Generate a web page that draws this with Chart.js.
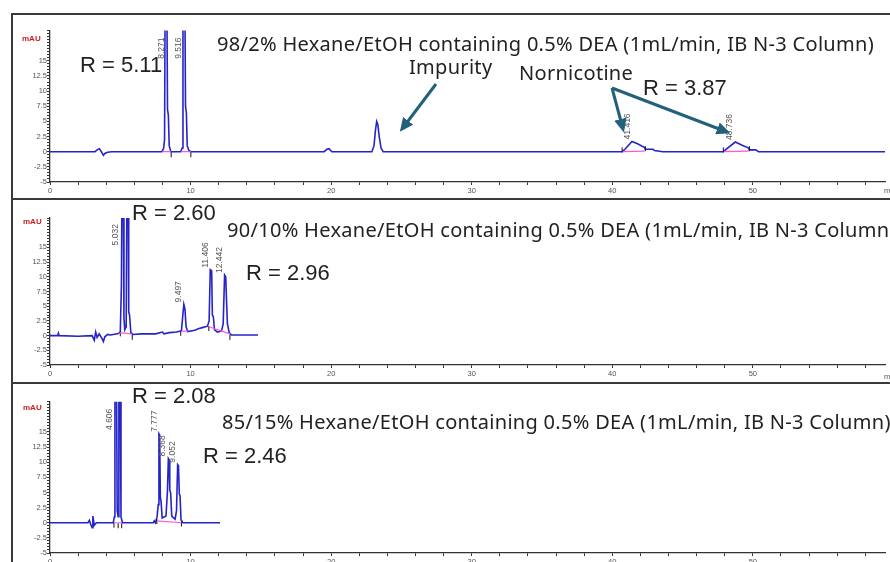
<!DOCTYPE html>
<html>
<head>
<meta charset="utf-8">
<script src="https://cdn.jsdelivr.net/npm/chart.js@4.4.1/dist/chart.umd.min.js"></script>
<style>
  html, body { margin:0; padding:0; background:#fff; }
  body { position:relative; width:890px; height:562px; overflow:hidden; }
  canvas { position:absolute; left:12px; }
  .line { position:absolute; background:#3a3a3a; }
  .txt { position:absolute; white-space:nowrap; line-height:1; color:#222; }
  .title { font-family:'Noto Sans'; font-size:20px; letter-spacing:0.3px; }
  .rval { font-family:'Liberation Sans'; font-size:22px; }
  .mau { font-family:'Liberation Sans'; font-size:8px; font-weight:bold; color:#c82020; }
  .unit { font-family:'Liberation Sans'; font-size:7.5px; color:#555; }
</style>
</head>
<body>
<!-- panel frames -->
<div class="line" style="left:11px;top:13px;width:879px;height:1.5px"></div>
<div class="line" style="left:11px;top:13px;width:1.5px;height:549px"></div>
<div class="line" style="left:11px;top:198px;width:879px;height:1.5px"></div>
<div class="line" style="left:11px;top:382px;width:879px;height:1.5px"></div>

<canvas id="c1" width="878" height="183" style="top:15px"></canvas>
<canvas id="c2" width="878" height="181" style="top:200px"></canvas>
<canvas id="c3" width="878" height="185" style="top:384px"></canvas>

<div class="txt mau" style="left:22px;top:35px">mAU</div>
<div class="txt mau" style="left:23px;top:218px">mAU</div>
<div class="txt mau" style="left:23px;top:404px">mAU</div>
<div class="txt unit" style="left:884px;top:187px">min</div>
<div class="txt unit" style="left:884px;top:373px">min</div>

<div class="txt title" style="left:217px;top:33.5px">98/2% Hexane/EtOH containing 0.5% DEA (1mL/min, IB N-3 Column)</div>
<div class="txt title" style="left:227px;top:219.5px">90/10% Hexane/EtOH containing 0.5% DEA (1mL/min, IB N-3 Column)</div>
<div class="txt title" style="left:222px;top:411.5px">85/15% Hexane/EtOH containing 0.5% DEA (1mL/min, IB N-3 Column)</div>
<div class="txt title" style="left:409px;top:56.5px">Impurity</div>
<div class="txt title" style="left:519px;top:63.2px">Nornicotine</div>

<div class="txt rval" style="left:80px;top:54px">R = 5.11</div>
<div class="txt rval" style="left:643px;top:77px">R = 3.87</div>
<div class="txt rval" style="left:132px;top:202px">R = 2.60</div>
<div class="txt rval" style="left:246px;top:262px">R = 2.96</div>
<div class="txt rval" style="left:132px;top:385px">R = 2.08</div>
<div class="txt rval" style="left:203px;top:445px">R = 2.46</div>

<svg width="890" height="562" style="position:absolute;left:0;top:0">
  <defs>
    <marker id="ah" markerWidth="4.6" markerHeight="4.2" refX="3.4" refY="2.1" orient="auto" markerUnits="strokeWidth">
      <path d="M0,0 L4.6,2.1 L0,4.2 z" fill="#22617a"/>
    </marker>
  </defs>
  <line x1="436" y1="84" x2="402" y2="129" stroke="#22617a" stroke-width="3" marker-end="url(#ah)"/>
  <line x1="612" y1="88" x2="623" y2="129" stroke="#22617a" stroke-width="3" marker-end="url(#ah)"/>
  <line x1="612" y1="88" x2="727" y2="132" stroke="#22617a" stroke-width="3" marker-end="url(#ah)"/>
</svg>

<script>
// ---- panel 1 : 98/2% Hexane/EtOH ----
var time1 = [0, 3.2, 3.35, 3.5, 3.6, 3.7, 3.8, 3.9, 4.1, 4.4,
  7.95, 8.08, 8.15, 8.2, 8.3, 8.36, 8.42, 8.48, 8.6,
  9.3, 9.4, 9.46, 9.58, 9.64, 9.7, 9.76, 9.88, 10.0,
  19.5, 19.7, 19.85, 20.05,
  22.9, 23.05, 23.15, 23.24, 23.32, 23.42, 23.55, 23.7,
  40.7, 40.9, 41.4, 41.8, 42.3, 42.35, 42.9, 43.0, 43.6,
  47.9, 48.2, 48.75, 49.2, 49.7, 49.75, 50.2, 50.4, 59.4];
var signal1 = [0, 0, 0.3, 0.5, 0.2, -0.2, -0.6, -0.3, -0.1, 0,
  0, 0.5, 2, 30, 30, 7, 6, 1, 0,
  0, 0.6, 30, 30, 7.5, 6.5, 1, 0.2, 0,
  0, 0.4, 0.5, 0,
  0, 1, 3.5, 5, 4.5, 2.5, 0.6, 0,
  0, 0.4, 1.7, 1.3, 0.7, 0.4, 0.4, 0.2, 0,
  0, 0.6, 1.6, 1.1, 0.6, 0.3, 0.3, 0, 0];
var peakNames1 = ['8.271', '9.516', '41.416', '48.736'];
var peakTops1 = [30, 30, 1.7, 1.6];
var baseTime1 = [8.0, 8.6, 8.6, 9.35, 10.0, 10.0, 40.75, 42.3, 42.3, 47.95, 49.7];
var baseVal1 = [0, 0, null, 0, 0, null, 0, 0.1, null, 0, 0.1];
var markTime1 = [8.62, 10.02, 40.7, 42.35, 47.9, 49.75];
var markVal1 = [-0.5, -0.5, 0.3, 0.5, 0.3, 0.5];

// ---- panel 2 : 90/10% Hexane/EtOH ----
var time2 = [0, 0.55, 0.6, 0.65, 2.0, 3.0, 3.15, 3.25, 3.35, 3.5, 3.7, 3.8, 3.9, 4.1, 4.3, 4.8,
  5.0, 5.08, 5.13, 5.2, 5.26, 5.32, 5.42, 5.48, 5.55, 5.6, 5.66, 5.75, 5.9,
  6.5, 7.5, 8.0, 8.1, 8.5, 9.0,
  9.35, 9.45, 9.52, 9.6, 9.68, 9.8, 10.3, 10.6, 10.9,
  11.2, 11.32, 11.4, 11.5, 11.55, 11.62, 11.7, 11.9,
  12.2, 12.32, 12.42, 12.5, 12.55, 12.62, 12.75, 12.9, 13.5, 14.8];
var signal2 = [0, 0, 0.4, 0, -0.1, 0, -0.8, 0.6, -0.3, 0.3, -0.5, -1.0, -0.2, 0.2, 0.1, 0.3,
  0.6, 8.5, 30, 30, 3, 1, 1.5, 30, 30, 4, 3.5, 0.5, 0.2,
  0.3, 0.3, 0.6, 0.3, 0.5, 0.6,
  0.8, 3.5, 5.3, 4.5, 1.5, 0.7, 0.9, 1.2, 1.4,
  1.6, 2.5, 11.2, 11, 3.5, 3.2, 1, 0.6,
  0.8, 2, 10.3, 10, 6.5, 2, 0.5, 0.1, 0.1, 0.1];
var peakNames2 = ['5.032', '9.497', '11.406', '12.442'];
var peakTops2 = [30, 5.3, 11.2, 10.3];
var baseTime2 = [4.95, 5.8, 5.8, 9.3, 9.8, 9.8, 11.3, 12.8];
var baseVal2 = [0.5, 0.3, null, 0.7, 0.8, null, 1.5, 0.3];
var markTime2 = [5.0, 5.85, 9.3, 11.3, 12.8];
var markVal2 = [0.3, -0.3, 0.4, 1.2, -0.3];

// ---- panel 3 : 85/15% Hexane/EtOH ----
var time3 = [0, 2.7, 2.8, 2.9, 3.0, 3.05, 3.15, 3.3, 4.5,
  4.58, 4.62, 4.72, 4.78, 4.85, 4.9, 4.98, 5.05, 5.15,
  7.35, 7.42, 7.5, 7.62, 7.7, 7.75, 7.8, 7.85, 7.9, 7.98,
  8.25, 8.35, 8.42, 8.47, 8.52, 8.58, 8.66,
  8.9, 9.0, 9.08, 9.14, 9.2, 9.25, 9.32, 9.45, 12.1];
var signal3 = [0, 0, 0.4, -0.3, -0.8, 1.1, -0.4, 0, 0,
  1, 30, 30, 2, 1, 30, 30, 1, 0,
  0, 0.3, 0, 1, 3, 14.7, 14.5, 4.2, 3.5, 0.8,
  1.1, 5, 10.6, 10.4, 5.3, 5, 1.1,
  0.6, 2, 9.6, 9.4, 4.7, 4.5, 0.5, 0, 0];
var peakNames3 = ['4.606', '7.777', '8.368', '9.052'];
var peakTops3 = [30, 14.7, 10.6, 9.6];
var baseTime3 = [4.55, 5.1, 5.1, 7.6, 9.35];
var baseVal3 = [0, 0, null, 0.3, 0];
var markTime3 = [4.55, 4.85, 5.1, 7.6, 9.35];
var markVal3 = [-0.4, -0.5, -0.5, 0.2, -0.2];

// ---- axes ----
var xTicks = [0, 2, 4, 6, 8, 10, 12, 14, 16, 18, 20, 22, 24, 26, 28, 30,
  32, 34, 36, 38, 40, 42, 44, 46, 48, 50, 52, 54, 56, 58];
var xTickLabels = ['0', '10', '20', '30', '40', '50'];
var yTickLabels = ['-5', '-2.5', '0', '2.5', '5', '7.5', '10', '12.5', '15'];
var yMinorStep = 0.5;

function pairs(xs, ys) {
  return xs.map(function(x, i){ return {x: x, y: ys[i]}; });
}

var peakLabelPlugin = {
  id: 'peakLabels',
  afterDatasetsDraw: function(chart, args, opts) {
    var ctx = chart.ctx, xs = chart.scales.x, ys = chart.scales.y;
    ctx.save();
    ctx.font = '8.5px "Liberation Sans"';
    ctx.fillStyle = '#555';
    ctx.textBaseline = 'middle';
    ctx.textAlign = 'left';
    opts.names.forEach(function(name, i){
      var px = xs.getPixelForValue(parseFloat(name)) - 5;
      var py = ys.getPixelForValue(Math.min(opts.tops[i], 15)) - 2;
      ctx.save();
      ctx.translate(px, py);
      ctx.rotate(-Math.PI / 2);
      ctx.fillText(name, 0, 0);
      ctx.restore();
    });
    ctx.restore();
  }
};

function makeChart(id, padTop, t, s, names, tops, bt, bv, mt, mv) {
  var tickFont = {family: 'Liberation Sans', size: 7.5};
  new Chart(document.getElementById(id), {
    type: 'line',
    data: {
      datasets: [
        { data: pairs(bt, bv), borderColor: '#ff55dd', borderWidth: 1.2, pointRadius: 0, spanGaps: false, order: 0 },
        { data: pairs(mt, mv), showLine: false, pointStyle: 'line', rotation: 90, pointRadius: 2.5,
          borderColor: '#111', borderWidth: 1, order: 0 },
        { data: pairs(t, s), borderColor: '#2424c8', borderWidth: 1.6, pointRadius: 0, tension: 0, order: 1 }
      ]
    },
    options: {
      responsive: false,
      animation: false,
      layout: { padding: { top: padTop, right: 0, left: 0, bottom: 0 } },
      plugins: {
        legend: { display: false },
        tooltip: { enabled: false },
        peakLabels: { names: names, tops: tops }
      },
      scales: {
        x: {
          type: 'linear', min: 0, max: 59.4,
          afterBuildTicks: function(scale){ scale.ticks = xTicks.map(function(v){ return {value: v}; }); },
          afterFit: function(scale){ scale.height = 16; },
          ticks: {
            autoSkip: false, maxRotation: 0, padding: 1, color: '#555', font: tickFont,
            callback: function(v){ return xTickLabels.indexOf(String(v)) >= 0 ? String(v) : ''; }
          },
          grid: { drawOnChartArea: false, drawTicks: true, tickLength: 3, tickColor: '#333' },
          border: { display: true, color: '#333', width: 1.3 }
        },
        y: {
          min: -5, max: 20,
          afterBuildTicks: function(scale){
            var ticks = [];
            for (var v = -5; v <= 20.001; v += yMinorStep) ticks.push({value: Math.round(v * 10) / 10});
            scale.ticks = ticks;
          },
          afterFit: function(scale){ scale.width = 38; },
          ticks: {
            autoSkip: false, padding: 0, color: '#555', font: tickFont,
            callback: function(v){ return yTickLabels.indexOf(String(v)) >= 0 ? String(v) : ''; }
          },
          grid: { drawOnChartArea: false, drawTicks: true, tickLength: 3, tickColor: '#333' },
          border: { display: true, color: '#333', width: 1.3 }
        }
      }
    },
    plugins: [peakLabelPlugin]
  });
}

makeChart('c1', 15.5, time1, signal1, peakNames1, peakTops1, baseTime1, baseVal1, markTime1, markVal1);
makeChart('c2', 18, time2, signal2, peakNames2, peakTops2, baseTime2, baseVal2, markTime2, markVal2);
makeChart('c3', 17.7, time3, signal3, peakNames3, peakTops3, baseTime3, baseVal3, markTime3, markVal3);
</script>
</body>
</html>
